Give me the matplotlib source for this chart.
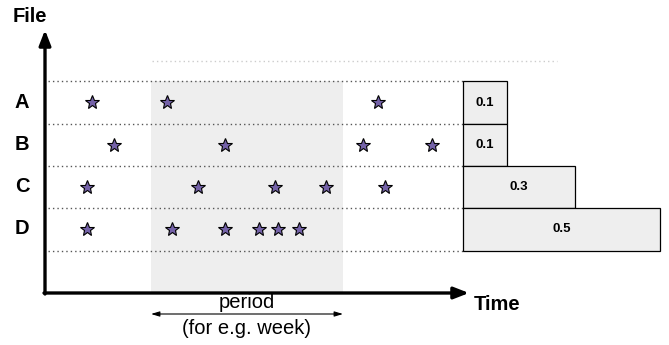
import matplotlib.pyplot as plt

plt.rcParams["font.family"] = ["Liberation Sans", "DejaVu Sans"]

# rows (files) and event times, drawn on a pixel-like canvas
files = ["A", "B", "C", "D"]
events = {
    "A": [92, 167, 378],
    "B": [114, 225, 363, 432],
    "C": [87, 198, 275, 326, 385],
    "D": [87, 172, 225, 259, 278, 299],
}
row_centres = [102, 145, 187, 229]
row_edges = [81, 124, 166, 208, 251]
weights = [0.1, 0.1, 0.3, 0.5]
bar_ends = [507, 507, 575, 660]
period_start, period_end = 151, 343

fig = plt.figure(figsize=(6.69, 3.45), dpi=100)
ax = fig.add_axes([0, 0, 1, 1])
ax.set_xlim(0, 669)
ax.set_ylim(345, 0)
ax.axis("off")

# shaded period
ax.fill_between([period_start, period_end], row_edges[0], 293,
                color="#eeeeee", lw=0, zorder=0)

# dotted row separators
for y in row_edges:
    ax.plot([48, 463], [y, y], color="#555555", ls=(0, (1, 2.2)), lw=1.0, zorder=1)
ax.plot([152, 557], [61, 61], color="#cccccc", ls=(0, (1, 2.2)), lw=1.0, zorder=1)

# axes with arrows
ax.annotate("", xy=(45, 30), xytext=(45, 294),
            arrowprops=dict(arrowstyle="-|>,head_length=0.9,head_width=0.35",
                            color="black", lw=2.4, shrinkA=0, shrinkB=0))
ax.annotate("", xy=(469, 293), xytext=(44, 293),
            arrowprops=dict(arrowstyle="-|>,head_length=0.9,head_width=0.35",
                            color="black", lw=2.4, shrinkA=0, shrinkB=0))
ax.text(30, 17, "File", fontsize=14.5, fontweight="bold", ha="center", va="center")
ax.text(497, 304, "Time", fontsize=14.5, fontweight="bold", ha="center", va="center")

# row labels and events
for f, yc in zip(files, row_centres):
    ax.text(22, yc, f, fontsize=14.5, fontweight="bold", ha="center", va="center")
    ax.plot(events[f], [yc] * len(events[f]), ls="none", marker="*", ms=10,
            mfc="#7462a8", mec="black", mew=0.8, zorder=3)

# weight bars
for i, (w, x1) in enumerate(zip(weights, bar_ends)):
    y0, y1 = row_edges[i], row_edges[i + 1]
    ax.fill([463, x1, x1, 463], [y0, y0, y1, y1], facecolor="#eeeeee",
            edgecolor="black", lw=0.9, zorder=2)
    ax.text((463 + x1) / 2, (y0 + y1) / 2, f"{w:.1f}", fontsize=9.5,
            fontweight="bold", ha="center", va="center", zorder=3)

# period annotation
ax.annotate("", xy=(period_start, 314), xytext=(period_end, 314),
            arrowprops=dict(arrowstyle="<|-|>,head_length=0.5,head_width=0.15",
                            color="black", lw=0.8, shrinkA=0, shrinkB=0))
ax.text((period_start + period_end) / 2, 302, "period", fontsize=14.5,
        ha="center", va="center")
ax.text((period_start + period_end) / 2, 328, "(for e.g. week)", fontsize=14.5,
        ha="center", va="center")

fig.savefig("out.png", dpi=100)
